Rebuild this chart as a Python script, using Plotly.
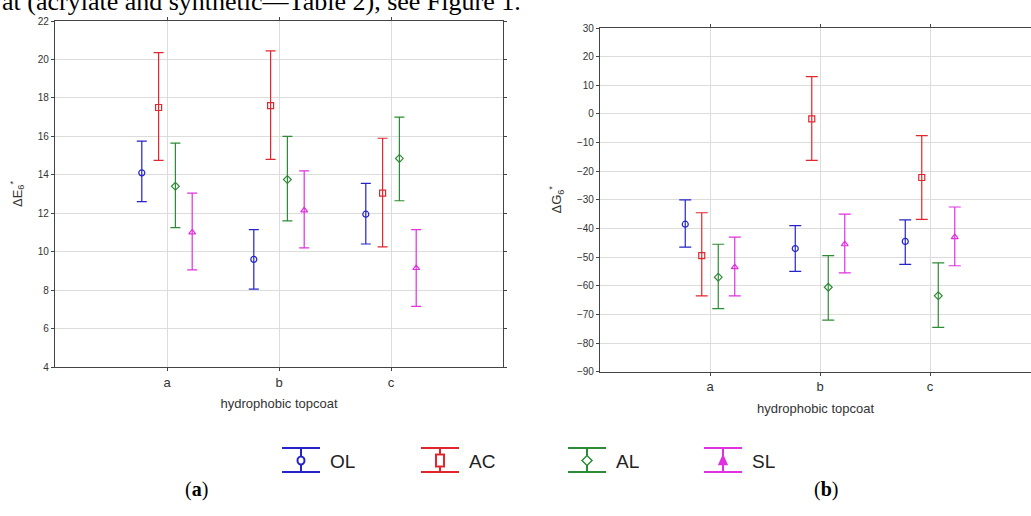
import plotly.graph_objects as go

categories = ["a", "b", "c"]
series = ["OL", "AC", "AL", "SL"]
colors = ["#2424c8", "#e2262e", "#2e8b35", "#e030e0"]
symbols = ["circle-open", "square-open", "diamond-open", "triangle-up-open"]

# Panel (a): ΔE6* — mean, upper and lower limits
dE_mean = {"OL": [14.1, 9.6, 11.95], "AC": [17.5, 17.6, 13.05], "AL": [13.4, 13.75, 14.85], "SL": [11.0, 12.15, 9.15]}
dE_upper = {"OL": [15.75, 11.15, 13.55], "AC": [20.35, 20.45, 15.9], "AL": [15.65, 16.0, 17.0], "SL": [13.05, 14.2, 11.15]}
dE_lower = {"OL": [12.6, 8.05, 10.4], "AC": [14.75, 14.8, 10.25], "AL": [11.25, 11.6, 12.65], "SL": [9.05, 10.2, 7.15]}

# Panel (b): ΔG6*
dG_mean = {"OL": [-38.5, -47.0, -44.5], "AC": [-49.5, -1.7, -22.2], "AL": [-57.0, -60.5, -63.5], "SL": [-53.5, -45.5, -43.0]}
dG_upper = {"OL": [-30.0, -39.0, -37.0], "AC": [-34.5, 13.0, -7.6], "AL": [-45.5, -49.5, -52.0], "SL": [-43.0, -35.0, -32.5]}
dG_lower = {"OL": [-46.5, -55.0, -52.5], "AC": [-63.5, -16.2, -36.8], "AL": [-68.0, -72.0, -74.5], "SL": [-63.5, -55.5, -53.0]}

W, H = 1031, 516
fig = go.Figure()

def add_panel(mean, upper, lower, xa, ya, capw):
    for s, c, sym in zip(series, colors, symbols):
        m = mean[s]
        up = [u - v for u, v in zip(upper[s], m)]
        dn = [v - l for v, l in zip(m, lower[s])]
        fig.add_trace(go.Scatter(
            x=categories, y=m, name=s, mode="markers",
            xaxis=xa, yaxis=ya, showlegend=False,
            marker=dict(symbol=sym, size=6, color=c, line=dict(width=1.2, color=c)),
            error_y=dict(type="data", symmetric=False, array=up, arrayminus=dn,
                         color=c, thickness=1.2, width=capw),
        ))

add_panel(dE_mean, dE_upper, dE_lower, "x", "y", 5)
add_panel(dG_mean, dG_upper, dG_lower, "x2", "y2", 6)

FONT = "Liberation Sans, Arial"
axis_common = dict(
    showline=True, linecolor="#444", linewidth=1.3, mirror="ticks",
    ticks="outside", ticklen=3, tickcolor="#444", automargin=False,
    gridcolor="#dcdcdc", gridwidth=1, zeroline=False,
    tickfont=dict(family=FONT, size=10, color="#333"),
)
xtick_font = dict(family=FONT, size=13, color="#333")
title_font = dict(size=13, color="#333", family=FONT)

fig.update_layout(
    width=W, height=H,
    margin=dict(l=0, r=0, t=0, b=0, autoexpand=False),
    plot_bgcolor="white", paper_bgcolor="white",
    scattermode="group", scattergap=0.4,
    showlegend=False,
    xaxis=dict(domain=[55 / W, 503 / W], anchor="y", type="category",
               categoryorder="array", categoryarray=categories, range=[-1, 3],
               title=dict(text="hydrophobic topcoat", font=title_font, standoff=10),
               **{**axis_common, "tickfont": xtick_font}),
    yaxis=dict(domain=[1 - 367 / H, 1 - 21 / H], anchor="x", range=[4, 22], dtick=2,
               title=dict(text="ΔE<sub>6</sub><sup>*</sup>", font=title_font, standoff=12),
               **axis_common),
    xaxis2=dict(domain=[600 / W, 1.0], anchor="y2", type="category",
                categoryorder="array", categoryarray=categories, range=[-1, 2.918],
                title=dict(text="hydrophobic topcoat", font=title_font, standoff=10),
                **{**axis_common, "tickfont": xtick_font}),
    yaxis2=dict(domain=[1 - 371.7 / H, 1 - 28 / H], anchor="x2", range=[-90, 30], dtick=10,
                title=dict(text="ΔG<sub>6</sub><sup>*</sup>", font=title_font, standoff=12),
                **axis_common),
)

# Custom legend reproducing error-bar icons
legend_x = [282, 421, 568, 704]   # left edge of each icon, pixels
icon_w, top_y, bot_y, mid_y = 38, 448, 472, 460.5
px = lambda v: v / W
py = lambda v: 1 - v / H
for s, c, x0 in zip(series, colors, legend_x):
    cx = x0 + icon_w / 2
    for yy in (top_y, bot_y):
        fig.add_shape(type="line", xref="paper", yref="paper", x0=px(x0), x1=px(x0 + icon_w),
                      y0=py(yy), y1=py(yy), line=dict(color=c, width=2))
    fig.add_shape(type="line", xref="paper", yref="paper", x0=px(cx), x1=px(cx),
                  y0=py(top_y), y1=py(bot_y), line=dict(color=c, width=2))
    if s == "OL":
        fig.add_shape(type="circle", xref="paper", yref="paper", x0=px(cx - 3.5), x1=px(cx + 3.5),
                      y0=py(mid_y - 4), y1=py(mid_y + 4), line=dict(color=c, width=2), fillcolor="white")
    elif s == "AC":
        fig.add_shape(type="rect", xref="paper", yref="paper", x0=px(cx - 4), x1=px(cx + 4),
                      y0=py(mid_y - 6), y1=py(mid_y + 6), line=dict(color=c, width=2), fillcolor="white")
    elif s == "AL":
        path = (f"M {px(cx - 5)} {py(mid_y)} L {px(cx)} {py(mid_y - 5)} L {px(cx + 5)} {py(mid_y)} "
                f"L {px(cx)} {py(mid_y + 5)} Z")
        fig.add_shape(type="path", xref="paper", yref="paper", path=path,
                      line=dict(color=c, width=1.5), fillcolor="white")
    else:
        path = (f"M {px(cx - 4)} {py(mid_y + 4)} L {px(cx)} {py(mid_y - 5)} L {px(cx + 4)} {py(mid_y + 4)} Z")
        fig.add_shape(type="path", xref="paper", yref="paper", path=path,
                      line=dict(color=c, width=1.5), fillcolor=c)
    fig.add_annotation(text=s, xref="paper", yref="paper", x=px(x0 + icon_w + 8), xanchor="left",
                       y=py(mid_y + 1), yanchor="middle", showarrow=False,
                       font=dict(family=FONT, size=19, color="#222"))

fig.add_annotation(text="at (acrylate and synthetic\u2014Table 2), see Figure 1.",
                   xref="paper", yref="paper", x=0, xanchor="left", y=1 - 18 / H, yanchor="bottom",
                   showarrow=False, font=dict(family="Liberation Serif, DejaVu Serif", size=26, color="black"))
fig.add_annotation(text="(<b>a</b>)", xref="paper", yref="paper", x=183 / W, y=1 - 503 / H,
                   showarrow=False, font=dict(family="Liberation Serif, DejaVu Serif", size=20, color="black"))
fig.add_annotation(text="(<b>b</b>)", xref="paper", yref="paper", x=840 / W, y=1 - 503 / H,
                   showarrow=False, font=dict(family="Liberation Serif, DejaVu Serif", size=20, color="black"))

fig.write_html("out.html", config={"displayModeBar": False},
               post_script="document.body.style.margin='0px';document.body.style.overflow='hidden';")
